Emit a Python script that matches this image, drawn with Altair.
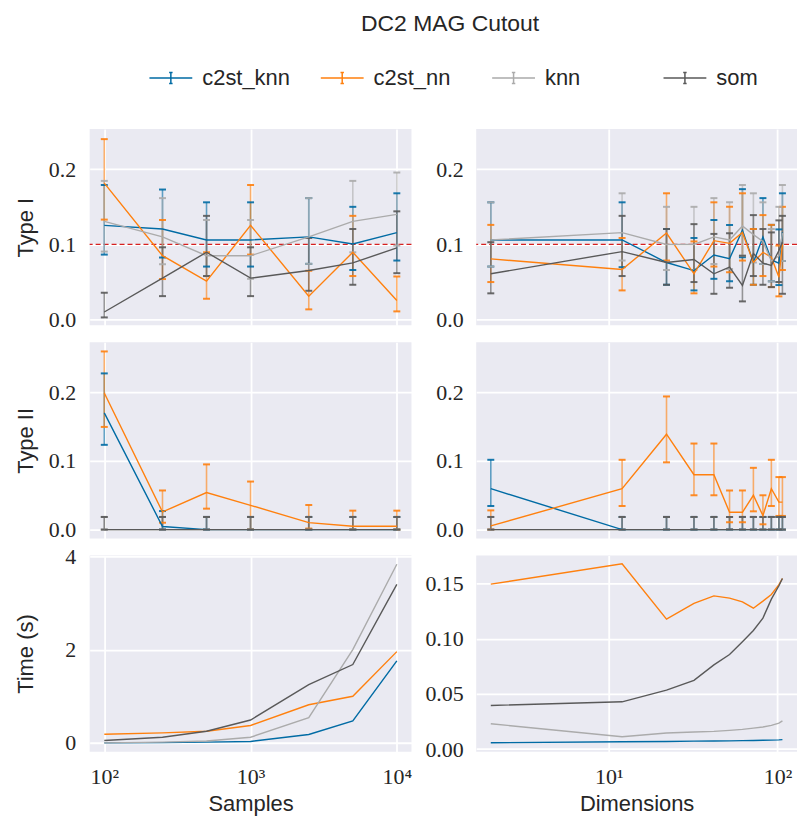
import altair as alt
import pandas as pd

methods = ["c2st_knn", "c2st_nn", "knn", "som"]
colors = ["#006BA4", "#FF800E", "#ABABAB", "#595959"]

samples = [100, 250, 500, 1000, 2500, 5000, 10000]
dims = [2, 12, 22, 32, 42, 52, 62, 72, 82, 92, 102, 107]

# ---- Type I vs samples (mean, lower, upper) ----
t1s_c2st_knn = [0.1254, 0.1205, 0.106, 0.106, 0.110, 0.1007, 0.1157]
t1s_c2st_knn_lo = [0.0865, 0.0826, 0.0706, 0.0706, 0.0742, 0.066, 0.0786]
t1s_c2st_knn_hi = [0.179, 0.173, 0.156, 0.156, 0.1616, 0.150, 0.168]
t1s_c2st_nn = [0.1815, 0.085, 0.0512, 0.1254, 0.0313, 0.0896, 0.0256]
t1s_c2st_nn_lo = [0.133, 0.054, 0.0278, 0.0865, 0.0137, 0.058, 0.011]
t1s_c2st_nn_hi = [0.240, 0.1325, 0.0896, 0.179, 0.065, 0.138, 0.0574]
t1s_knn = [0.1307, 0.110, 0.085, 0.085, 0.110, 0.1307, 0.140]
t1s_knn_lo = [0.0905, 0.0737, 0.058, 0.0543, 0.0742, 0.0896, 0.0985]
t1s_knn_hi = [0.1845, 0.1616, 0.1325, 0.1325, 0.1616, 0.1845, 0.1956]
t1s_som = [0.0102, 0.0552, 0.0896, 0.0552, 0.0653, 0.0755, 0.0954]
t1s_som_lo = [0.003, 0.0313, 0.058, 0.0313, 0.0384, 0.0464, 0.0618]
t1s_som_hi = [0.0358, 0.0962, 0.138, 0.0962, 0.1086, 0.1205, 0.144]

# ---- Type I vs dimensions ----
t1d_c2st_knn = [0.106, 0.106, 0.076, 0.0653, 0.086, 0.081, 0.119, 0.076, 0.110, 0.0795, 0.075, 0.116]
t1d_c2st_knn_lo = [0.0706, 0.0698, 0.0464, 0.0389, 0.0543, 0.051, 0.083, 0.0464, 0.074, 0.051, 0.046, 0.078]
t1d_c2st_knn_hi = [0.156, 0.156, 0.1205, 0.1086, 0.1325, 0.126, 0.1735, 0.1205, 0.1616, 0.126, 0.120, 0.168]
t1d_c2st_nn = [0.0808, 0.0667, 0.1152, 0.061, 0.105, 0.1015, 0.116, 0.076, 0.0896, 0.083, 0.0565, 0.100]
t1d_c2st_nn_lo = [0.050, 0.0389, 0.0786, 0.035, 0.0706, 0.063, 0.0786, 0.0464, 0.058, 0.0433, 0.031, 0.066]
t1d_c2st_nn_hi = [0.126, 0.1086, 0.168, 0.104, 0.156, 0.150, 0.168, 0.1205, 0.139, 0.126, 0.0985, 0.150]
t1d_knn = [0.106, 0.1157, 0.100, 0.100, 0.110, 0.106, 0.1245, 0.113, 0.104, 0.078, 0.085, 0.115]
t1d_knn_lo = [0.0706, 0.0786, 0.066, 0.066, 0.074, 0.0675, 0.085, 0.076, 0.074, 0.051, 0.050, 0.078]
t1d_knn_hi = [0.156, 0.168, 0.150, 0.150, 0.1616, 0.156, 0.179, 0.168, 0.156, 0.1205, 0.150, 0.179]
t1d_som = [0.061, 0.0905, 0.076, 0.080, 0.061, 0.0698, 0.0455, 0.088, 0.075, 0.072, 0.092, 0.103]
t1d_som_lo = [0.035, 0.058, 0.0464, 0.050, 0.0344, 0.0424, 0.0243, 0.058, 0.0464, 0.0433, 0.050, 0.0344]
t1d_som_hi = [0.103, 0.138, 0.1205, 0.127, 0.114, 0.115, 0.085, 0.139, 0.1205, 0.116, 0.132, 0.138]

# ---- Type II vs samples ----
t2s_c2st_knn = [0.170, 0.0044, 0.0, 0.0, 0.0, 0.0, 0.0]
t2s_c2st_knn_lo = [0.1235, 0.0, 0.0, 0.0, 0.0, 0.0, 0.0]
t2s_c2st_knn_hi = [0.2276, 0.027, 0.0184, 0.0184, 0.0184, 0.0184, 0.0184]
t2s_c2st_nn = [0.199, 0.0257, 0.054, 0.0354, 0.0102, 0.0048, 0.0048]
t2s_c2st_nn_lo = [0.1496, 0.010, 0.0305, 0.0, 0.0015, 0.0, 0.0]
t2s_c2st_nn_hi = [0.2596, 0.057, 0.095, 0.070, 0.0358, 0.0276, 0.0276]
t2s_knn = [0.0, 0.0, 0.0, 0.0, 0.0, 0.0, 0.0]
t2s_knn_lo = [0.0, 0.0, 0.0, 0.0, 0.0, 0.0, 0.0]
t2s_knn_hi = [0.0184, 0.0184, 0.0184, 0.0184, 0.0184, 0.0184, 0.0184]
t2s_som = [0.0, 0.0, 0.0, 0.0, 0.0, 0.0, 0.0]
t2s_som_lo = [0.0, 0.0, 0.0, 0.0, 0.0, 0.0, 0.0]
t2s_som_hi = [0.0184, 0.0184, 0.0184, 0.0184, 0.0184, 0.0184, 0.0184]

# ---- Type II vs dimensions ----
t2d_c2st_knn = [0.0596, 0.0, 0.0, 0.0, 0.0, 0.0, 0.0, 0.0, 0.0, 0.0, 0.0, 0.0]
t2d_c2st_knn_lo = [0.0344, 0.0, 0.0, 0.0, 0.0, 0.0, 0.0, 0.0, 0.0, 0.0, 0.0, 0.0]
t2d_c2st_knn_hi = [0.1017, 0.0184, 0.0184, 0.0184, 0.0184, 0.0184, 0.0184, 0.0184, 0.0184, 0.0184, 0.0184, 0.0184]
t2d_c2st_nn = [0.0053, 0.0596, 0.139, 0.080, 0.080, 0.0252, 0.0252, 0.050, 0.0203, 0.0596, 0.040, 0.040]
t2d_c2st_nn_lo = [0.0, 0.0344, 0.098, 0.050, 0.050, 0.0107, 0.0107, 0.0266, 0.0077, 0.0344, 0.0199, 0.0199]
t2d_c2st_nn_hi = [0.028, 0.1017, 0.194, 0.1254, 0.1254, 0.057, 0.057, 0.090, 0.050, 0.1017, 0.0765, 0.0765]
t2d_knn = [0.0] * 12
t2d_knn_lo = [0.0] * 12
t2d_knn_hi = [0.0184] * 12
t2d_som = [0.0] * 12
t2d_som_lo = [0.0] * 12
t2d_som_hi = [0.0184] * 12

# ---- Time vs samples ----
tts_c2st_knn = [0.0, 0.005, 0.015, 0.03, 0.18, 0.47, 1.76]
tts_c2st_nn = [0.186, 0.215, 0.25, 0.373, 0.817, 1.0, 1.957]
tts_knn = [0.0, 0.015, 0.04, 0.12, 0.54, 2.0, 3.83]
tts_som = [0.05, 0.12, 0.25, 0.49, 1.25, 1.68, 3.40]

# ---- Time vs dimensions ----
ttd_c2st_knn = [0.0057, 0.0066, 0.0068, 0.0072, 0.0073, 0.0074, 0.0076, 0.0078, 0.008, 0.0081, 0.0083, 0.0085]
ttd_c2st_nn = [0.1494, 0.1678, 0.1177, 0.1319, 0.1388, 0.1367, 0.1334, 0.1276, 0.134, 0.140, 0.149, 0.1545]
ttd_knn = [0.0229, 0.0112, 0.0145, 0.0154, 0.016, 0.0169, 0.0178, 0.019, 0.020, 0.0214, 0.0235, 0.0256]
ttd_som = [0.0395, 0.0428, 0.0534, 0.0622, 0.0763, 0.0857, 0.0972, 0.1074, 0.1186, 0.1358, 0.1479, 0.1545]

LABEL_FONT = "Liberation Serif"
TEXT_FONT = "Liberation Sans"
TXT = "#262626"
W_L, W_R, H = 323, 322, 197

SYMBOL = "M-1,0H1M0,-0.26V0.26M-0.08,-0.26H0.08M-0.08,0.26H0.08"
legend = alt.Legend(
    title=None, orient="none", legendX=59, legendY=-74, direction="horizontal",
    columns=4, symbolType=SYMBOL, symbolSize=1849, symbolStrokeWidth=1.5,
    labelFont=TEXT_FONT, labelFontSize=22, labelColor=TXT, labelOffset=9,
    columnPadding=27, gridAlign="all", symbolOpacity=1,
)
color = alt.Color("method:N", scale=alt.Scale(domain=methods, range=colors), legend=legend)


def make_df(xs, series):
    rows = []
    for m in methods:
        vals = series[m]
        for i, x in enumerate(xs):
            r = {"x": x, "method": m, "y": vals[0][i]}
            if len(vals) > 1:
                r["lo"] = vals[1][i]
                r["hi"] = vals[2][i]
            rows.append(r)
    return pd.DataFrame(rows)


SUP = ("datum.value == 10 ? '10\u00b9' : datum.value == 100 ? '10\u00b2' : "
       "datum.value == 1000 ? '10\u00b3' : '10\u2074'")


def panel(xs, series, xdom, xvals, ydom, yvals, yfmt, ytitle, left, bottom, xtitle, width, errors, refline):
    df = make_df(xs, series)
    if bottom:
        xaxis = alt.Axis(values=xvals, labelExpr=SUP, title=xtitle, labelPadding=15, titlePadding=6, grid=True)
    else:
        xaxis = alt.Axis(values=xvals, labels=False, title=None, grid=True, minExtent=0, maxExtent=0)
    if left:
        yaxis = alt.Axis(values=yvals, format=yfmt, title=ytitle, minExtent=42, maxExtent=42,
                         titlePadding=10, labelPadding=14)
    else:
        yaxis = alt.Axis(values=yvals, format=yfmt, title=None, minExtent=52, maxExtent=52,
                         labelPadding=13)
    xenc = alt.X("x:Q", scale=alt.Scale(type="log", domain=xdom, nice=False), axis=xaxis)
    yscale = alt.Scale(domain=ydom, nice=False, zero=False)
    base = alt.Chart(df).encode(x=xenc, color=color)
    layers = []
    if refline:
        layers.append(
            alt.Chart(pd.DataFrame({"r": [0.1]})).mark_rule(color="#D62020", strokeDash=[5, 3], strokeWidth=1.2)
            .encode(y=alt.Y("r:Q", scale=yscale, axis=yaxis))
        )
    if errors:
        layers.append(base.mark_rule(strokeWidth=1.6, opacity=0.6).encode(
            y=alt.Y("lo:Q", scale=yscale, axis=yaxis), y2="hi:Q"))
        layers.append(base.mark_tick(orient="horizontal", size=7, thickness=2, opacity=0.9).encode(
            y=alt.Y("lo:Q", scale=yscale, axis=yaxis)))
        layers.append(base.mark_tick(orient="horizontal", size=7, thickness=2, opacity=0.9).encode(
            y=alt.Y("hi:Q", scale=yscale, axis=yaxis)))
    layers.append(base.mark_line(strokeWidth=1.4).encode(
        y=alt.Y("y:Q", scale=yscale, axis=yaxis)))
    return alt.layer(*layers).properties(width=width, height=H)


XL = [10 ** 1.9, 10 ** 4.1]
XR = [10 ** 0.21461, 10 ** 2.1158]
XLV = [100, 1000, 10000]
XRV = [10, 100]

p11 = panel(samples, {
    "c2st_knn": (t1s_c2st_knn, t1s_c2st_knn_lo, t1s_c2st_knn_hi),
    "c2st_nn": (t1s_c2st_nn, t1s_c2st_nn_lo, t1s_c2st_nn_hi),
    "knn": (t1s_knn, t1s_knn_lo, t1s_knn_hi),
    "som": (t1s_som, t1s_som_lo, t1s_som_hi)},
    XL, XLV, [-0.0075, 0.2534], [0, 0.1, 0.2], ".1f", "Type I", True, False, None, W_L, True, True)
p12 = panel(dims, {
    "c2st_knn": (t1d_c2st_knn, t1d_c2st_knn_lo, t1d_c2st_knn_hi),
    "c2st_nn": (t1d_c2st_nn, t1d_c2st_nn_lo, t1d_c2st_nn_hi),
    "knn": (t1d_knn, t1d_knn_lo, t1d_knn_hi),
    "som": (t1d_som, t1d_som_lo, t1d_som_hi)},
    XR, XRV, [-0.0075, 0.2534], [0, 0.1, 0.2], ".1f", None, False, False, None, W_R, True, True)
p21 = panel(samples, {
    "c2st_knn": (t2s_c2st_knn, t2s_c2st_knn_lo, t2s_c2st_knn_hi),
    "c2st_nn": (t2s_c2st_nn, t2s_c2st_nn_lo, t2s_c2st_nn_hi),
    "knn": (t2s_knn, t2s_knn_lo, t2s_knn_hi),
    "som": (t2s_som, t2s_som_lo, t2s_som_hi)},
    XL, XLV, [-0.013, 0.273], [0, 0.1, 0.2], ".1f", "Type II", True, False, None, W_L, True, False)
p22 = panel(dims, {
    "c2st_knn": (t2d_c2st_knn, t2d_c2st_knn_lo, t2d_c2st_knn_hi),
    "c2st_nn": (t2d_c2st_nn, t2d_c2st_nn_lo, t2d_c2st_nn_hi),
    "knn": (t2d_knn, t2d_knn_lo, t2d_knn_hi),
    "som": (t2d_som, t2d_som_lo, t2d_som_hi)},
    XR, XRV, [-0.013, 0.273], [0, 0.1, 0.2], ".1f", None, False, False, None, W_R, True, False)
p31 = panel(samples, {
    "c2st_knn": (tts_c2st_knn,), "c2st_nn": (tts_c2st_nn,),
    "knn": (tts_knn,), "som": (tts_som,)},
    XL, XLV, [-0.19, 4.02], [0, 2, 4], "d", "Time (s)", True, True, "Samples", W_L, False, False)
p32 = panel(dims, {
    "c2st_knn": (ttd_c2st_knn,), "c2st_nn": (ttd_c2st_nn,),
    "knn": (ttd_knn,), "som": (ttd_som,)},
    XR, XRV, [-0.0024, 0.1754], [0, 0.05, 0.10, 0.15], ".2f", None, False, True, "Dimensions", W_R, False, False)

left = alt.vconcat(p11, p21, p31, spacing=17, bounds="flush")
right = alt.vconcat(p12, p22, p32, spacing=17, bounds="flush")

chart = alt.hconcat(left, right, spacing=12).properties(
    title=alt.TitleParams("DC2 MAG Cutout", fontSize=23, font=TEXT_FONT, fontWeight="normal",
                          color=TXT, anchor="middle", offset=19, dx=44),
    padding={"left": 15, "top": 12, "right": 0, "bottom": 0},
).configure_view(
    fill="#EAEAF2", strokeWidth=0
).configure_axis(
    domain=False, ticks=False, gridColor="white", gridWidth=1.8, gridOpacity=1,
    labelFont=LABEL_FONT, labelFontSize=22, labelColor=TXT,
    titleFont=TEXT_FONT, titleFontSize=22, titleFontWeight="normal", titleColor=TXT,
)

chart.save("out.html", embed_options={"renderer": "svg", "actions": False})
